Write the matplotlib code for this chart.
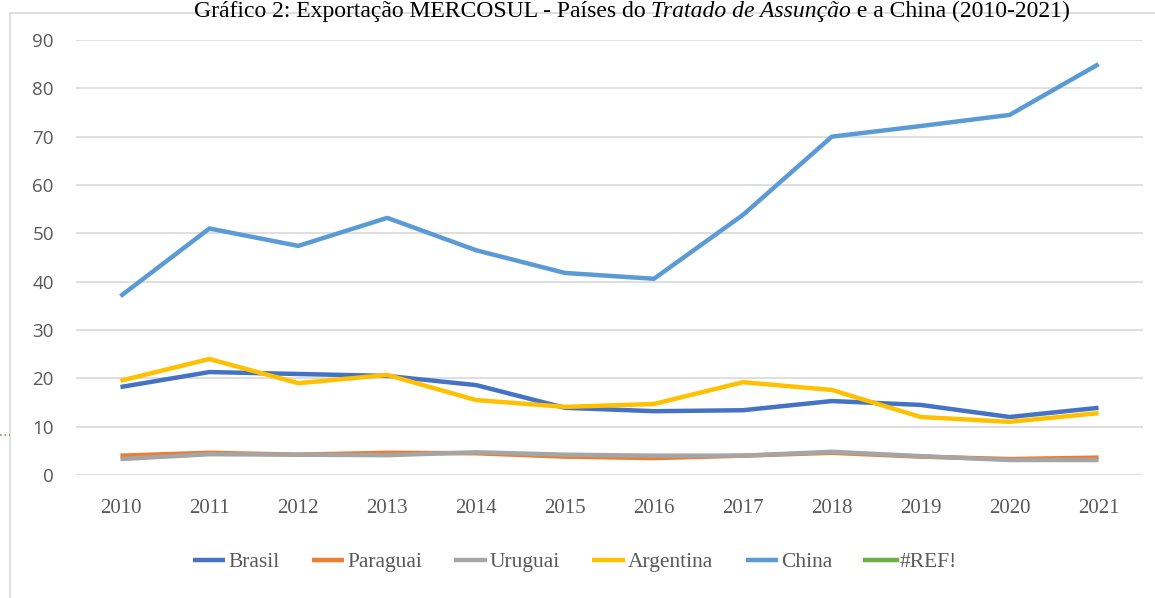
import matplotlib
matplotlib.use('Agg')
import matplotlib.pyplot as plt
from matplotlib.patches import Rectangle
from matplotlib.lines import Line2D

anos = [2010, 2011, 2012, 2013, 2014, 2015, 2016, 2017, 2018, 2019, 2020, 2021]

brasil = [18.2, 21.3, 20.9, 20.5, 18.6, 13.9, 13.2, 13.4, 15.3, 14.5, 12.0, 13.9]
paraguai = [4.0, 4.6, 4.2, 4.6, 4.5, 3.8, 3.5, 4.0, 4.6, 3.8, 3.3, 3.6]
uruguai = [3.3, 4.3, 4.2, 4.1, 4.7, 4.2, 4.0, 4.0, 4.8, 3.9, 3.1, 3.1]
argentina = [19.5, 24.0, 19.0, 20.7, 15.5, 14.1, 14.7, 19.2, 17.6, 12.0, 11.0, 12.8]
china = [37.0, 51.0, 47.4, 53.2, 46.5, 41.8, 40.6, 53.8, 70.0, 72.2, 74.5, 85.0]

series = [
    ('Brasil', brasil, '#4472C4'),
    ('Paraguai', paraguai, '#ED7D31'),
    ('Uruguai', uruguai, '#A5A5A5'),
    ('Argentina', argentina, '#FFC000'),
    ('China', china, '#5B9BD5'),
]

fig = plt.figure(figsize=(11.55, 5.98), dpi=100)
W, H = 1155, 598

# moldura do gráfico
fig.patches.append(Rectangle((10 / W, -0.1), 1.2, (598 - 13) / H + 0.1,
                             transform=fig.transFigure, fill=False,
                             edgecolor='#D9D9D9', linewidth=1.2))
fig.lines.append(Line2D([0, 10 / W], [(598 - 435) / H] * 2, transform=fig.transFigure,
                        color='#70AD47', linestyle=':', linewidth=1.2))

ax = fig.add_axes([76 / W, (598 - 475) / H, (1143 - 76) / W, (475 - 40) / H])

for nome, vals, cor in series:
    ax.plot(anos, vals, color=cor, linewidth=3.2, label=nome, solid_capstyle='butt')
ax.plot([], [], color='#70AD47', linewidth=3.2, label='#REF!')

ax.set_xlim(2009.5, 2021.5)
ax.set_ylim(0, 90)
ax.set_yticks(range(0, 91, 10))
ax.set_xticks(anos)
ax.grid(axis='y', color='#D9D9D9', linewidth=1.2)
ax.set_axisbelow(True)
for s in ax.spines.values():
    s.set_visible(False)
ax.tick_params(length=0)
ax.tick_params(axis='y', pad=16, labelsize=13.5, labelcolor='#595959')
ax.tick_params(axis='x', pad=17, labelsize=15, labelcolor='#595959')
for lbl in ax.get_xticklabels():
    lbl.set_fontfamily('Liberation Serif')
for lbl in ax.get_yticklabels():
    lbl.set_fontfamily('Open Sans')

leg = fig.legend(loc='center', bbox_to_anchor=(575 / W, (598 - 562) / H), ncol=6,
                 frameon=False, handlelength=1.5, handletextpad=0.15, columnspacing=1.5,
                 prop={'family': 'Liberation Serif', 'size': 15.5})
for t in leg.get_texts():
    t.set_color('#595959')

# título com trecho em itálico
partes = [('Gráfico 2: Exportação MERCOSUL - Países do ', 'normal'),
          ('Tratado de Assunção', 'italic'),
          (' e a China (2010-2021)', 'normal')]
fig.canvas.draw()
renderer = fig.canvas.get_renderer()
textos = []
largura = 0
for txt, estilo in partes:
    t = fig.text(0, 0, txt, family='Liberation Serif', style=estilo, fontsize=17,
                 color='#000000', va='baseline', ha='left')
    w = t.get_window_extent(renderer).width
    textos.append((t, w))
    largura += w
x = 632 - largura / 2
for t, w in textos:
    t.set_position((x / W, (598 - 17) / H))
    x += w

fig.savefig('out.png', dpi=100)
